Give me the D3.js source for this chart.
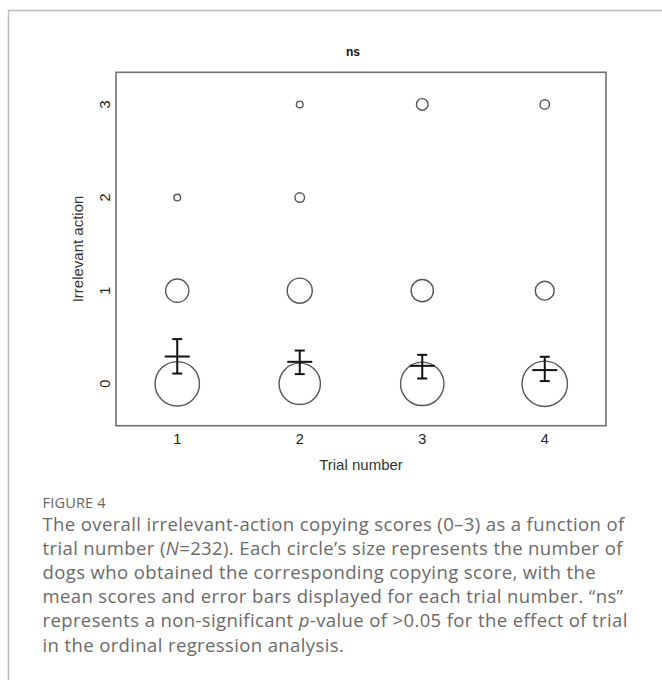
<!DOCTYPE html>
<html lang="en">

<head>
    <meta charset="UTF-8" />
    <script src="https://d3js.org/d3.v7.min.js"></script>
    <title>Figure 4</title>
    <style>
        body { margin: 0; background: #fff; }
        .tick-label { font-family: "Liberation Sans", Arial, sans-serif; font-size: 14.5px; fill: #222; }
        .axis-title { font-family: "Liberation Sans", Arial, sans-serif; font-size: 15px; fill: #333; }
        .caption { font-family: "Open Sans", sans-serif; font-size: 18.5px; fill: #6a6a6a; }
    </style>
</head>

<body>
    <script>
        // data
        const trials = [1, 2, 3, 4];
        const scores = [0, 1, 2, 3];
        // number of dogs per score (0..3) in each trial
        const counts = [
            [44, 12, 1, 0],
            [38, 14, 2, 1],
            [42, 11, 0, 3],
            [46, 8, 0, 2]
        ];
        const means = [0.293, 0.236, 0.193, 0.147];
        const errLow = [0.11, 0.104, 0.057, 0.029];
        const errHigh = [0.48, 0.357, 0.311, 0.29];
        const yTicks = [0, 1, 2, 3];
        const captionTitle = "FIGURE 4";
        const captionLines = [
            [["The overall irrelevant-action copying scores (0\u20133) as a function of", false]],
            [["trial number (", false], ["N", true], ["=232). Each circle\u2019s size represents the number of", false]],
            [["dogs who obtained the corresponding copying score, with the", false]],
            [["mean scores and error bars displayed for each trial number. \u201cns\u201d", false]],
            [["represents a non-significant ", false], ["p", true], ["-value of >0.05 for the effect of trial", false]],
            [["in the ordinal regression analysis.", false]]
        ];

        const svg = d3.select("body")
            .append("svg")
            .attr("width", 662)
            .attr("height", 680);

        // card border (only left and top visible)
        svg.append("path")
            .attr("d", "M8.5,680 V10.5 H662")
            .attr("fill", "none")
            .attr("stroke", "#bcbcbc")
            .attr("stroke-width", 1.5);

        const scaleX = d3.scaleLinear().domain([0.5, 4.5]).range([116, 606]);
        const scaleY = d3.scaleLinear().domain([-0.45, 3.345]).range([425.7, 72.3]);
        const scaleR = d3.scaleSqrt().domain([0, 58]).range([0, 25.5]);

        // plot box
        svg.append("rect")
            .attr("x", scaleX.range()[0])
            .attr("y", scaleY.range()[1])
            .attr("width", scaleX.range()[1] - scaleX.range()[0])
            .attr("height", scaleY.range()[0] - scaleY.range()[1])
            .attr("fill", "none")
            .attr("stroke", "#707070")
            .attr("stroke-width", 1.6);

        // tick labels, no tick marks
        svg.append("g").selectAll("text").data(trials).join("text")
            .attr("class", "tick-label")
            .attr("x", d => scaleX(d))
            .attr("y", 444)
            .attr("text-anchor", "middle")
            .text(d => d);

        svg.append("g").selectAll("text").data(yTicks).join("text")
            .attr("class", "tick-label")
            .attr("transform", d => `translate(110,${scaleY(d)}) rotate(-90)`)
            .attr("text-anchor", "middle")
            .text(d => d);

        svg.append("text")
            .attr("class", "axis-title")
            .attr("x", (scaleX.range()[0] + scaleX.range()[1]) / 2)
            .attr("y", 470)
            .attr("text-anchor", "middle")
            .text("Trial number");

        svg.append("text")
            .attr("class", "axis-title")
            .attr("transform", `translate(83,${(scaleY.range()[0] + scaleY.range()[1]) / 2}) rotate(-90)`)
            .attr("text-anchor", "middle")
            .text("Irrelevant action");

        svg.append("text")
            .attr("x", 353)
            .attr("y", 56)
            .attr("text-anchor", "middle")
            .attr("font-family", "'Liberation Sans', Arial, sans-serif")
            .attr("font-weight", "bold")
            .attr("font-size", 12)
            .attr("fill", "#111")
            .text("ns");

        // bubbles
        const bubbles = [];
        counts.forEach((row, i) => {
            row.forEach((n, s) => {
                if (n > 0) bubbles.push({ trial: trials[i], score: scores[s], n: n });
            });
        });
        svg.append("g").selectAll("circle").data(bubbles).join("circle")
            .attr("cx", d => scaleX(d.trial))
            .attr("cy", d => scaleY(d.score))
            .attr("r", d => scaleR(d.n))
            .attr("fill", "none")
            .attr("stroke", "#555")
            .attr("stroke-width", 1.4);

        // means with error bars
        const bars = trials.map((t, i) => ({ trial: t, mean: means[i], lo: errLow[i], hi: errHigh[i] }));
        const gBar = svg.append("g")
            .attr("stroke", "#111")
            .attr("stroke-width", 2)
            .attr("fill", "none");
        gBar.selectAll(".whisker").data(bars).join("line")
            .attr("x1", d => scaleX(d.trial)).attr("x2", d => scaleX(d.trial))
            .attr("y1", d => scaleY(d.lo)).attr("y2", d => scaleY(d.hi));
        gBar.selectAll(".capHi").data(bars).join("line")
            .attr("x1", d => scaleX(d.trial) - 5).attr("x2", d => scaleX(d.trial) + 5)
            .attr("y1", d => scaleY(d.hi)).attr("y2", d => scaleY(d.hi));
        gBar.selectAll(".capLo").data(bars).join("line")
            .attr("x1", d => scaleX(d.trial) - 5).attr("x2", d => scaleX(d.trial) + 5)
            .attr("y1", d => scaleY(d.lo)).attr("y2", d => scaleY(d.lo));
        gBar.selectAll(".meanLine").data(bars).join("line")
            .attr("x1", d => scaleX(d.trial) - 12.5).attr("x2", d => scaleX(d.trial) + 12.5)
            .attr("y1", d => scaleY(d.mean)).attr("y2", d => scaleY(d.mean));

        // caption
        svg.append("text")
            .attr("x", 42.5)
            .attr("y", 508)
            .attr("font-family", "'Open Sans', sans-serif")
            .attr("font-size", 14.5)
            .attr("letter-spacing", 0.2)
            .attr("fill", "#666")
            .text(captionTitle);

        const cap = svg.append("g");
        const capTexts = captionLines.map((parts, i) => {
            const t = cap.append("text")
                .attr("class", "caption")
                .attr("x", 42.5)
                .attr("y", 531 + i * 24.1);
            parts.forEach(p => {
                t.append("tspan")
                    .attr("font-style", p[1] ? "italic" : null)
                    .text(p[0]);
            });
            return t;
        });
        // the original face is wider: spread letters so the first line is ~582px long
        const first = capTexts[0].node();
        const nChars = first.textContent.length;
        const spacing = (582 - first.getComputedTextLength()) / nChars;
        capTexts.forEach(t => t.attr("letter-spacing", spacing));
    </script>
</body>

</html>
